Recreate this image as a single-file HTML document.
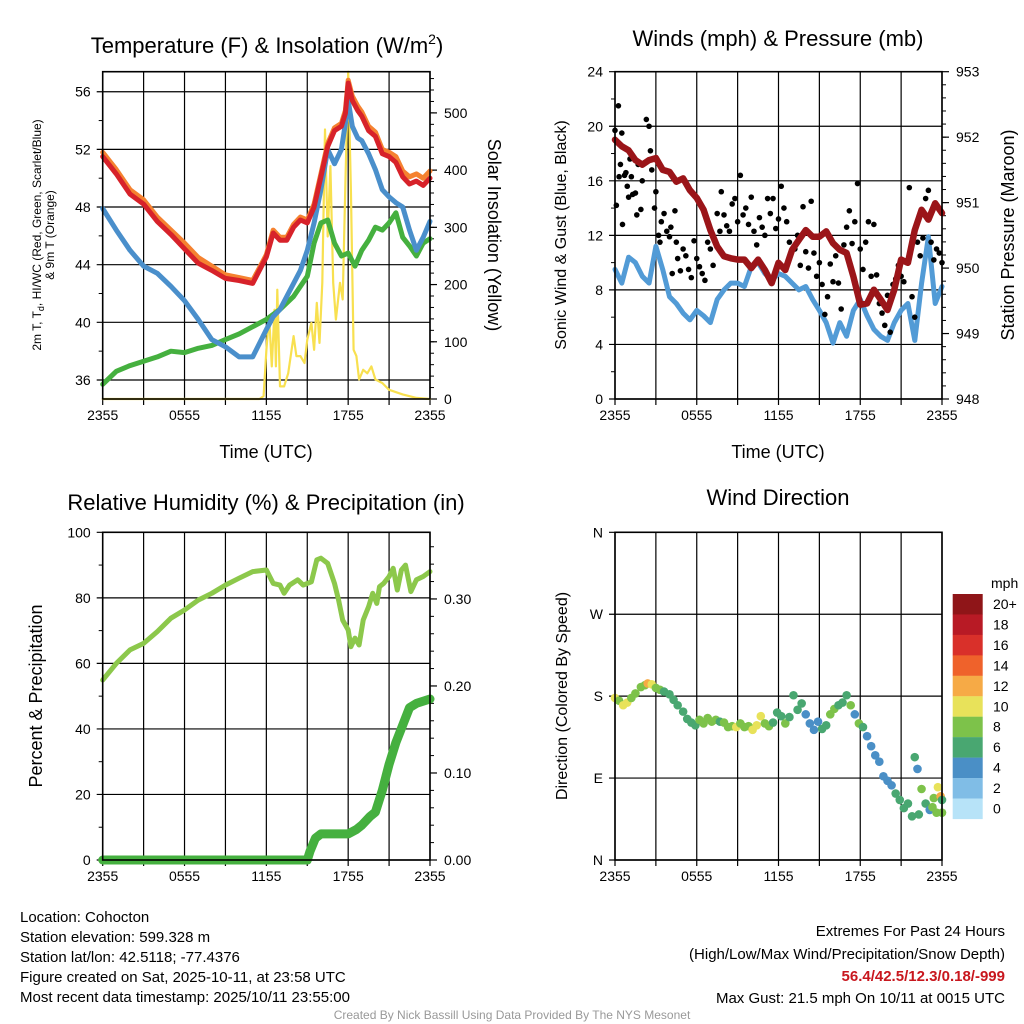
<!DOCTYPE html>
<html><head><meta charset="utf-8"><style>
html,body{margin:0;padding:0;background:#fff}
svg{display:block;font-family:"Liberation Sans",Arial,sans-serif}
</style></head><body>
<svg id="c" width="1024" height="1024" viewBox="0 0 1024 1024">
<g id="layer"></g>
<text x="267" y="53" font-size="22" text-anchor="middle">Temperature (F) &amp; Insolation (W/m<tspan font-size="14" dy="-9">2</tspan><tspan dy="9">)</tspan></text>
<text x="778" y="46" font-size="22" text-anchor="middle">Winds (mph) &amp; Pressure (mb)</text>
<text x="266" y="510" font-size="22" text-anchor="middle">Relative Humidity (%) &amp; Precipitation (in)</text>
<text x="778" y="505" font-size="22" text-anchor="middle">Wind Direction</text>
<text x="266" y="458" font-size="18" text-anchor="middle">Time (UTC)</text>
<text x="778" y="458" font-size="18" text-anchor="middle">Time (UTC)</text>
<text transform="rotate(-90 41 235)" x="41" y="235" font-size="12" text-anchor="middle">2m T, T<tspan font-size="9" dy="3">d</tspan><tspan dy="-3">, HI/WC (Red, Green, Scarlet/Blue)</tspan></text>
<text transform="rotate(-90 54 235)" x="54" y="235" font-size="12" text-anchor="middle">&amp; 9m T (Orange)</text>
<text transform="rotate(90 488 235)" x="488" y="235" font-size="18" text-anchor="middle">Solar Insolation (Yellow)</text>
<text transform="rotate(-90 566 235)" x="566" y="235" font-size="16" text-anchor="middle">Sonic Wind &amp; Gust (Blue, Black)</text>
<text transform="rotate(-90 1014 235)" x="1014" y="235" font-size="18" text-anchor="middle">Station Pressure (Maroon)</text>
<text transform="rotate(-90 42 696)" x="42" y="696" font-size="18" text-anchor="middle">Percent &amp; Precipitation</text>
<text transform="rotate(-90 567 696)" x="567" y="696" font-size="16" text-anchor="middle">Direction (Colored By Speed)</text>
<g font-size="15">
<text x="20" y="922">Location: Cohocton</text>
<text x="20" y="942">Station elevation: 599.328 m</text>
<text x="20" y="962">Station lat/lon: 42.5118; -77.4376</text>
<text x="20" y="982">Figure created on Sat, 2025-10-11, at 23:58 UTC</text>
<text x="20" y="1002">Most recent data timestamp: 2025/10/11 23:55:00</text>
</g>
<g font-size="15" text-anchor="end">
<text x="1005" y="936">Extremes For Past 24 Hours</text>
<text x="1005" y="959">(High/Low/Max Wind/Precipitation/Snow Depth)</text>
<text x="1005" y="981" fill="#c8171e" font-weight="bold">56.4/42.5/12.3/0.18/-999</text>
<text x="1005" y="1003">Max Gust: 21.5 mph On 10/11 at 0015 UTC</text>
</g>
<text x="512" y="1019" font-size="12" fill="#999" text-anchor="middle">Created By Nick Bassill Using Data Provided By The NYS Mesonet</text>
</svg>
<script>
// ---- Temperature panel data (hours since 2355 UTC) ----
const tempT=[0,1,2,3,4,5,6,7,8,9,10,11,12,12.5,13,13.5,14,14.5,15,15.5,16,16.5,17,17.5,17.8,18,18.3,18.7,19,19.5,20,20.5,21,21.5,22,22.5,23,23.5,24];
const tempRed=[51.5,50.3,48.9,48.2,47.0,46.1,45.1,44.1,43.6,43.05,42.9,42.7,44.55,46.2,45.7,45.7,46.6,47.1,46.9,48.0,50.1,52.2,53.3,53.6,54.5,56.6,55.4,54.7,54.3,53.3,52.9,51.7,51.5,51.1,50.1,49.6,49.8,49.5,50.0];
const tempOrange=[51.8,50.6,49.2,48.5,47.3,46.4,45.5,44.5,43.9,43.3,43.1,42.9,44.7,46.4,45.9,45.9,46.8,47.3,47.1,48.2,50.3,52.4,53.5,53.8,54.7,56.8,55.7,55.0,54.6,53.6,53.2,52.0,51.8,51.5,50.5,50.1,50.3,50.0,50.5];
const tempBlue=[47.9,46.4,45.0,43.9,43.4,42.5,41.5,40.2,38.8,38.3,37.6,37.6,39.5,40.4,40.9,41.8,42.7,43.6,45.0,46.9,49.2,52.0,51.0,52.0,53.8,55.4,53.6,52.8,52.6,51.7,50.6,49.2,48.7,48.3,48.0,46.4,45.0,45.9,47.0];
const dewT=[0,1,2,3,4,5,6,7,8,9,10,11,12,13,14,15,15.5,16,16.5,17,17.5,18,18.5,19,19.5,20,20.5,21,21.5,22,22.5,23,23.5,24];
const dewGreen=[35.7,36.6,37.0,37.3,37.6,38.0,37.9,38.2,38.4,38.8,39.2,39.7,40.2,40.9,41.8,43.2,45.5,46.9,47.1,45.5,44.6,44.8,43.9,45.0,45.7,46.6,46.4,46.9,47.6,45.9,45.3,44.6,45.5,45.8];
const solarT=[0,11.5,11.8,12,12.2,12.4,12.6,12.7,12.8,13,13.3,13.6,14,14.2,14.5,14.8,15,15.3,15.5,15.7,15.9,16.1,16.3,16.5,16.7,16.9,17.1,17.4,17.6,17.8,18,18.2,18.4,18.6,18.8,19.1,19.4,19.7,20,20.5,21,22,23,24];
const solarW=[0,0,5,86,145,57,156,57,191,22,22,45,110,75,75,63,104,133,86,168,98,203,471,284,407,203,139,203,174,378,576,366,86,75,34,51,45,57,34,28,16,8,2,0];
// ---- Winds panel data ----
const windT=[0,0.5,1,1.5,2,2.5,3,3.5,4,4.5,5,5.5,6,6.5,7,7.5,8,8.5,9,9.5,10,10.5,11,11.5,12,12.5,13,13.5,14,14.5,15,15.5,16,16.5,17,17.5,18,18.5,19,19.5,20,20.5,21,21.5,22,22.5,23,23.5,24];
const windSpeed=[9.5,8.5,10.4,10.0,9.0,8.5,11.2,9.5,7.5,7.0,6.3,5.8,6.5,6.1,5.6,7.3,8.0,8.5,8.5,8.25,9.7,10.0,9.2,8.7,9.2,9.0,8.5,8.0,8.25,7.3,6.5,5.6,4.1,5.6,4.6,6.5,7.3,6.1,5.1,4.6,4.3,5.6,6.5,7.0,4.3,8.5,11.9,7.0,8.25];
const pressure=[951.96,951.86,951.8,951.65,951.58,951.65,951.68,951.5,951.47,951.32,951.37,951.19,951.07,950.89,950.58,950.33,950.18,950.15,950.13,950.13,950.0,950.13,949.97,949.77,950.08,949.97,950.28,950.43,950.58,950.48,950.48,950.56,950.38,950.28,950.23,949.87,949.44,949.46,949.67,949.52,949.36,949.67,950.13,950.08,950.58,950.89,950.74,950.99,950.84];
const gustT=[0,0.1,0.25,0.3,0.4,0.5,0.55,0.7,0.8,0.9,1.0,1.1,1.2,1.3,1.5,1.6,1.7,1.9,2.0,2.3,2.5,2.6,2.7,2.9,3.0,3.2,3.3,3.4,3.6,3.8,4.0,4.1,4.2,4.4,4.5,4.6,4.8,5.0,5.2,5.4,5.6,5.8,6.0,6.2,6.4,6.6,6.8,7.0,7.2,7.5,7.7,7.8,8.0,8.2,8.4,8.6,8.8,9.0,9.2,9.4,9.6,9.8,10.0,10.2,10.4,10.6,10.8,11.0,11.2,11.4,11.6,11.8,12.0,12.2,12.4,12.6,12.8,13.0,13.2,13.4,13.6,13.8,14.0,14.2,14.4,14.6,14.8,15.0,15.2,15.4,15.6,15.8,16.0,16.2,16.4,16.6,16.8,17.0,17.2,17.4,17.6,17.8,18.0,18.2,18.4,18.6,18.8,19.0,19.2,19.4,19.6,19.8,20.0,20.2,20.4,20.6,20.8,21.0,21.2,21.4,21.6,21.8,22.0,22.2,22.4,22.6,22.8,23.0,23.2,23.4,23.6,23.8,24.0];
const gustSpeed=[19.7,14.2,21.5,16.3,17.2,19.5,12.8,16.4,16.6,15.6,14.8,17.6,16.3,15.0,15.1,13.5,17.2,13.9,16.0,20.5,20.0,18.2,16.8,14.0,15.2,12.0,11.5,13.0,13.6,12.3,11.9,12.6,9.2,13.8,11.5,10.3,9.4,11.0,10.5,9.5,8.9,11.6,10.3,9.7,9.2,8.7,11.5,11.0,9.8,13.6,12.3,15.2,13.5,12.7,12.3,14.3,14.7,13.0,16.4,13.5,14.0,12.8,14.8,12.3,11.3,13.3,12.6,12.0,14.7,13.6,14.7,12.5,13.2,15.6,14.0,13.0,11.5,10.9,11.0,12.0,9.8,14.1,10.8,9.6,14.5,10.7,9.0,10.0,8.4,6.2,7.5,9.9,8.6,10.5,8.5,6.6,11.3,12.6,13.8,11.4,13.0,15.8,11.0,9.5,11.5,13.0,9.0,12.8,9.1,7.0,6.3,5.4,7.6,4.9,8.4,8.8,9.8,9.0,8.6,10.0,15.5,7.5,6.0,11.5,10.5,11.8,14.7,15.3,11.5,10.2,11.0,10.7,10.0];
// ---- Humidity / precipitation ----
const rhT=[0,1,2,3,4,5,6,7,8,9,10,11,12,12.5,13,13.3,13.7,14.3,14.7,15.3,15.7,16,16.5,17,17.3,17.6,18,18.2,18.5,18.8,19.1,19.5,19.8,20.1,20.3,20.6,21,21.3,21.6,21.9,22.2,22.6,23,23.5,24];
const rhVal=[54.9,60.0,64.1,66.1,69.7,73.8,76.3,79.3,81.4,83.9,86.0,88.0,88.5,84.4,83.9,81.4,83.9,85.5,83.9,84.9,91.6,92.1,90.5,84.4,79.3,73.2,70.2,65.1,67.7,65.6,73.2,77.3,81.4,78.3,83.4,84.4,86.5,89.0,82.4,88.5,90.0,81.9,85.5,86.5,88.0];
const precipT=[0,15,15.2,15.6,16,17,18,18.6,19,19.6,20,20.5,21,21.5,22,22.5,23,24];
const precipIn=[0,0,0.01,0.025,0.03,0.03,0.03,0.035,0.04,0.05,0.055,0.08,0.11,0.135,0.155,0.175,0.18,0.185];
// ---- Wind direction ----
const dirT=[0,0.3,0.6,0.9,1.2,1.5,1.9,2.2,2.4,2.7,3.0,3.3,3.6,4.0,4.3,4.6,5.0,5.3,5.6,5.9,6.2,6.5,6.8,7.1,7.4,7.7,8.0,8.3,8.6,8.9,9.2,9.5,9.8,10.1,10.4,10.7,11.0,11.3,11.6,11.9,12.2,12.5,12.8,13.1,13.4,13.7,14.0,14.3,14.6,14.9,15.2,15.5,15.8,16.1,16.4,16.7,17.0,17.3,17.6,17.9,18.2,18.5,18.8,19.1,19.4,19.7,20.0,20.3,20.6,20.9,21.2,21.5,21.8,22.0,22.2,22.5,22.8,23.1,23.3,23.4,23.6,23.7,23.9,24.0,24.0,22.3];
const dirDeg=[178,175,170,173,178,183,190,192,194,193,189,187,185,182,176,170,163,155,151,148,154,150,156,152,154,152,151,146,147,146,150,146,147,143,148,158,150,147,151,162,158,150,157,181,165,172,160,150,143,152,144,148,160,166,170,173,181,170,160,150,146,136,125,115,108,92,87,82,73,66,57,62,48,113,100,78,62,55,58,68,52,80,70,66,52,50];
const dirSpeed=[10,9,10,10,8,9,8,8,12,10,8,8,6,7,6,6,6,6,6,6,8,8,8,8,8,7,8,9,8,10,8,9,8,10,10,10,8,8,7,6,6,8,6,6,6,6,4,4,4,4,6,6,8,8,6,6,6,8,4,8,6,4,4,4,4,4,4,4,6,6,6,6,6,6,4,8,6,4,8,8,8,10,12,6,8,6];
const cbLabels=["20+","18","16","14","12","10","8","6","4","2","0"];
const cbColors=["#8f1518","#b81a25","#d9302a","#ef622b","#f6aa46","#e8e25a","#7dc24a","#49a771","#4a8fc6","#80bde6","#b7e3f8"];
const timeLabels=["2355","0555","1155","1755","2355"];

const NS="http://www.w3.org/2000/svg";
const layer=document.getElementById('layer');
function mk(tag,at,parent){const e=document.createElementNS(NS,tag);for(const k in at)e.setAttribute(k,at[k]);(parent||layer).appendChild(e);return e;}

function makePanel(o){
  const g=mk('g',{});
  
  
  const xs=t=>o.x0+(t/24)*(o.x1-o.x0);
  const ys=v=>o.y1-(v-o.lo)/(o.hi-o.lo)*(o.y1-o.y0);
  const yr=o.rlo!==undefined?(v=>o.y1-(v-o.rlo)/(o.rhi-o.rlo)*(o.y1-o.y0)):null;
  // vertical grid
  for(let h=0;h<=24;h+=3){const x=xs(h);
    const l=mk('line',{x1:x,x2:x,y1:o.y0,y2:o.y1+6,stroke:'#000','stroke-width':1.2},g);
    }
  // horizontal grid + left labels
  for(const v of o.lt){const y=ys(v);
    const l=mk('line',{x1:o.x0-6,x2:o.x1,y1:y,y2:y,stroke:'#000','stroke-width':1.2},g);
    
    const t=mk('text',{x:o.x0-12,y:y+5,'font-size':14,'text-anchor':'end'},g);
    t.textContent=o.ll?o.ll[o.lt.indexOf(v)]:v;
    }
  if(o.lminor)for(let v=o.lminor[0];v<=o.hi;v+=o.lminor[1]){const y=ys(v);mk('line',{x1:o.x0-4,x2:o.x0,y1:y,y2:y,stroke:'#000','stroke-width':1},g);}
  if(yr){
    for(const v of o.rt){const y=yr(v);
      mk('line',{x1:o.x1,x2:o.x1+7,y1:y,y2:y,stroke:'#000','stroke-width':1.2},g);
      const t=mk('text',{x:o.x1+14,y:y+5,'font-size':14},g);
      t.textContent=o.rl[o.rt.indexOf(v)];
      }
    for(let v=o.rlo+o.rminor;v<=o.rhi;v+=o.rminor){const y=yr(v);mk('line',{x1:o.x1,x2:o.x1+4,y1:y,y2:y,stroke:'#000','stroke-width':1},g);}
  }
  timeLabels.forEach((s,i)=>{const t=mk('text',{x:xs(i*6),y:o.y1+21,'font-size':14,'text-anchor':'middle'},g);t.textContent=s;
    });
  const marks=mk('g',{},g);
  const box=mk('rect',{x:o.x0,y:o.y0,width:o.x1-o.x0,height:o.y1-o.y0,fill:'none',stroke:'#000','stroke-width':1.6},g);
  
  return {xs,ys,yr,marks};
}
function line(p,ts,vs,sc,color,w,name){
  const pts=ts.map((t,i)=>p.xs(t).toFixed(1)+','+sc(vs[i]).toFixed(1)).join(' ');
  const e=mk('polyline',{points:pts,fill:'none',stroke:color,'stroke-width':w,'stroke-linejoin':'round','stroke-linecap':'round'},p.marks);
  
  
}
// Panel 1
const p1=makePanel({name:'temperature-panel',x0:102.7,x1:430,y0:71.7,y1:399,lo:34.68,hi:57.39,lt:[36,40,44,48,52,56],lminor:[38,4],rlo:0,rhi:572,rt:[0,100,200,300,400,500],rl:['0','100','200','300','400','500'],rminor:20});
const clipS=v=>p1.yr(Math.min(v,572));
line(p1,solarT,solarW,clipS,'#f8e04f',2.2,'solar-insolation-line');
line(p1,dewT,dewGreen,p1.ys,'#45b03f',5,'dewpoint-line');
line(p1,tempT,tempBlue,p1.ys,'#4a8fcb',5,'wind-chill-line');
line(p1,tempT,tempOrange,p1.ys,'#f58230',5,'9m-temperature-line');
line(p1,tempT,tempRed,p1.ys,'#d7222a',5,'2m-temperature-line');
// Panel 2
const p2=makePanel({name:'winds-panel',x0:615,x1:942,y0:71.7,y1:399,lo:0,hi:24,lt:[0,4,8,12,16,20,24],lminor:[2,4],rlo:948,rhi:953,rt:[948,949,950,951,952,953],rl:['948','949','950','951','952','953'],rminor:0.2});
line(p2,windT,windSpeed,p2.ys,'#529bd6',5,'sonic-wind-line');
gustT.forEach((t,i)=>{const c=mk('circle',{cx:p2.xs(t),cy:p2.ys(gustSpeed[i]),r:2.8,fill:'#000'},p2.marks);
  
  });
line(p2,windT,pressure,p2.yr,'#9b1519',6.5,'pressure-line');
// Panel 3
const p3=makePanel({name:'humidity-panel',x0:102.7,x1:430,y0:532.3,y1:860,lo:0,hi:100,lt:[0,20,40,60,80,100],lminor:[10,20],rlo:0,rhi:0.3766,rt:[0,0.1,0.2,0.3],rl:['0.00','0.10','0.20','0.30'],rminor:0.02});
line(p3,rhT,rhVal,p3.ys,'#8cc84b',5,'relative-humidity-line');
line(p3,precipT,precipIn,p3.yr,'#45b03f',9,'precipitation-line');
// Panel 4
const p4=makePanel({name:'wind-direction-panel',x0:615,x1:942,y0:532.3,y1:860,lo:0,hi:360,lt:[0,90,180,270,360],ll:['N','E','S','W','N']});
dirT.forEach((t,i)=>{const s=dirSpeed[i];const idx=Math.max(0,Math.min(10,10-Math.floor(s/2)));
  const c=mk('circle',{cx:p4.xs(t),cy:p4.ys(dirDeg[i]),r:4.3,fill:cbColors[idx]},p4.marks);
  
  });
// Colorbar
const cb=mk('g',{});


const ct=mk('text',{x:991,y:588,'font-size':14},cb);ct.textContent='mph';
cbColors.forEach((c,i)=>{mk('rect',{x:952.7,y:594+i*20.45,width:30,height:20.6,fill:c},cb);
  const t=mk('text',{x:993,y:594+i*20.45+15,'font-size':14},cb);t.textContent=cbLabels[i];
  
  });
</script>
</body></html>
